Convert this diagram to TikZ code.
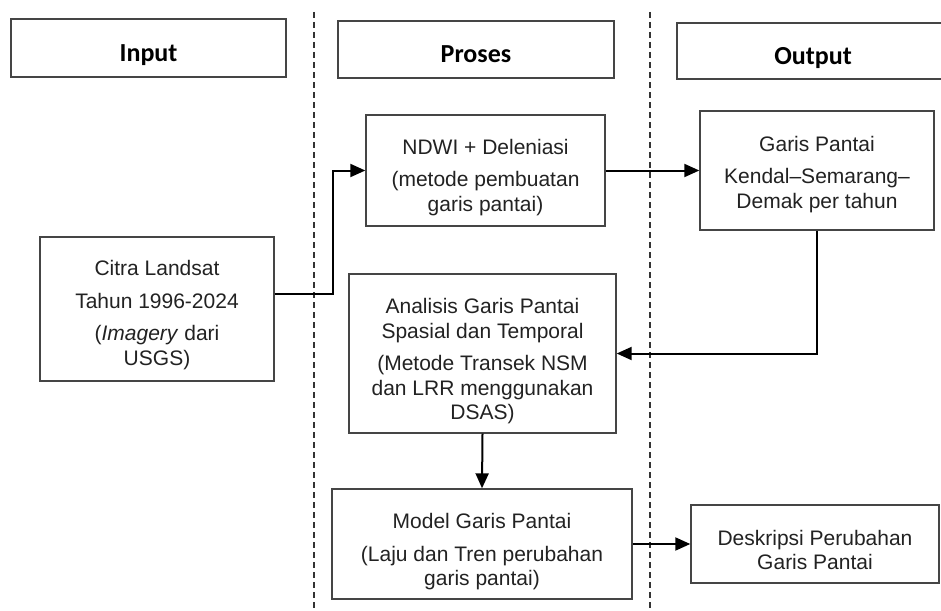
\documentclass[tikz,border=0pt]{standalone}
\usepackage{fontspec}
\setmainfont{Liberation Sans}
\newfontfamily\headfont{Carlito}
\usetikzlibrary{arrows.meta}
\definecolor{boxgray}{HTML}{454545}
\definecolor{txtgray}{HTML}{222222}
\tikzset{
  bx/.style={draw=boxgray, line width=1.4pt, fill=white, inner sep=0pt},
  bt/.style={text=txtgray, align=center, inner sep=0pt, font=\fontsize{21}{24.5}\selectfont},
  hd/.style={draw=boxgray, line width=1.4pt, fill=white, text=black, align=center, inner sep=0pt,
    text height=26pt, text depth=0pt, font=\headfont\bfseries\fontsize{26}{30}\selectfont},
  sep/.style={draw=black!80, line width=1.3pt, dash pattern=on 6pt off 4pt},
  arr/.style={draw=black, line width=2pt, -{Triangle[length=15pt,width=13pt]}},
}
\begin{document}
\begin{tikzpicture}[x=1pt,y=-1pt]
\useasboundingbox (0,0) rectangle (941,610);
\clip (0,0) rectangle (941,610);
\fill[white] (0,0) rectangle (941,610);
% separators
\coordinate (s1t) at (314,12); \coordinate (s1b) at (314,610);
\coordinate (s2t) at (650,12); \coordinate (s2b) at (650,610);
\draw[sep] (s1t) -- (s1b);
\draw[sep] (s2t) -- (s2b);
% headers
\node[hd, minimum width=275pt, minimum height=58pt] (hin) at (148.5,48) {Input};
\node[hd, minimum width=276pt, minimum height=57pt] (hpr) at (476,49.5) {Proses};
\node[hd, minimum width=272pt, minimum height=56pt] (hout) at (813,51) {Output};
% boxes
\node[bx, minimum width=239pt, minimum height=111pt] (ndwi) at (485.5,170.5) {};
\node[bt] (ndwit) at ([yshift=-7pt]ndwi.center)
  {NDWI + Deleniasi\\[8pt](metode pembuatan\\garis pantai)};
\node[bx, minimum width=234pt, minimum height=119pt] (gp) at (817,170.5) {};
\node[bt] (gpt) at ([yshift=-4pt]gp.center)
  {Garis Pantai\\[8pt]Kendal–Semarang–\\Demak per tahun};
\node[bx, minimum width=234pt, minimum height=144pt] (citra) at (157,309) {};
\node[bt] (citrat) at ([yshift=-6pt]citra.center)
  {Citra Landsat\\[8pt]Tahun 1996-2024\\[8pt](\textit{Imagery} dari\\USGS)};
\node[bx, minimum width=267pt, minimum height=159pt] (ana) at (482.5,353.5) {};
\node[bt] (anat) at ([yshift=-8pt]ana.center)
  {Analisis Garis Pantai\\Spasial dan Temporal\\[8pt](Metode Transek NSM\\dan LRR menggunakan\\DSAS)};
\node[bx, minimum width=300pt, minimum height=110pt] (model) at (482,544) {};
\node[bt] (modelt) at ([yshift=-8pt]model.center)
  {Model Garis Pantai\\[8pt](Laju dan Tren perubahan\\garis pantai)};
\node[bx, minimum width=248pt, minimum height=78pt] (desk) at (815,544) {};
\node[bt] (deskt) at ([yshift=-6pt]desk.center)
  {Deskripsi Perubahan\\Garis Pantai};
% connectors
\draw[arr] ([yshift=15pt]citra.east) -- ++(58,0) |- (ndwi.west);
\draw[arr] (ndwi.east) -- (gp.west);
\draw[arr] (gp.south) |- (ana.east);
\draw[arr] (ana.south) -- (model.north);
\draw[arr] (model.east) -- (desk.west);
\end{tikzpicture}
\end{document}
